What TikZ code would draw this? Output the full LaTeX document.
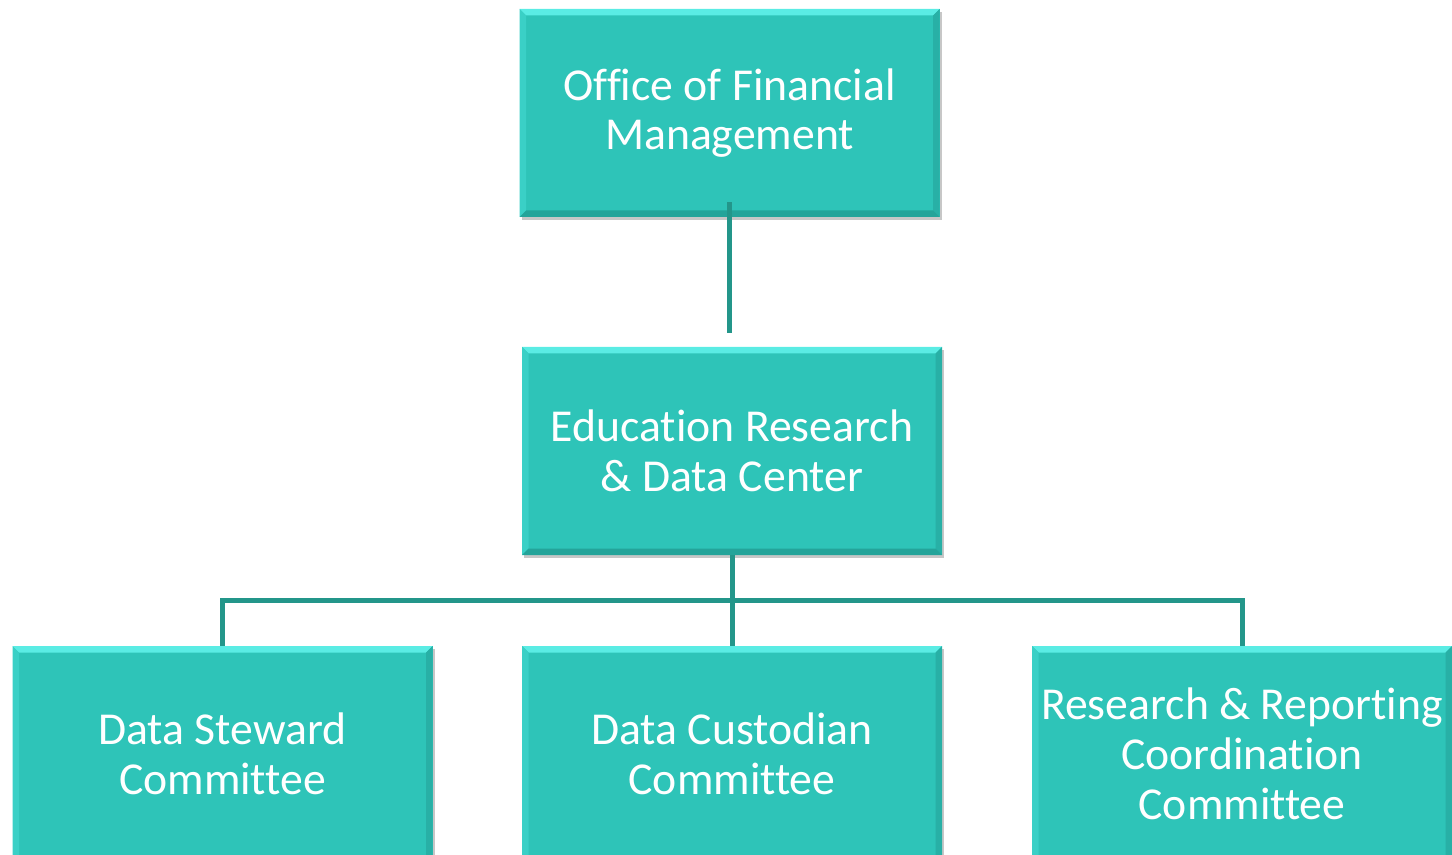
\documentclass[tikz,border=0pt]{standalone}
\usepackage{fontspec}
\setmainfont{Carlito}[Ligatures=NoCommon]
\usepackage{tikz}
\usepackage{xcolor}
\usetikzlibrary{positioning, calc, shadows}

\definecolor{boxfill}{RGB}{46,196,184}
\definecolor{boxtop}{RGB}{90,236,228}
\definecolor{boxleft}{RGB}{58,208,198}
\definecolor{boxright}{RGB}{40,176,166}
\definecolor{boxbottom}{RGB}{36,164,154}
\definecolor{linkc}{RGB}{35,150,138}

\tikzset{
  unit/.style={fill=boxfill, text=white, align=center,
    minimum width=8.4cm, minimum height=4.16cm, inner sep=0pt,
    font=\fontsize{26}{28.3}\selectfont,
    drop shadow={shadow xshift=0.04cm, shadow yshift=-0.06cm, opacity=0.22, fill=black},
    path picture={
      \fill[boxtop] (path picture bounding box.north west) -- (path picture bounding box.north east)
        -- ++(-0.13,-0.13) -- ($(path picture bounding box.north west)+(0.13,-0.13)$) -- cycle;
      \fill[boxleft] (path picture bounding box.north west) -- ++(0.13,-0.13)
        -- ($(path picture bounding box.south west)+(0.13,0.13)$) -- (path picture bounding box.south west) -- cycle;
      \fill[boxright] (path picture bounding box.north east) -- ++(-0.13,-0.13)
        -- ($(path picture bounding box.south east)+(-0.13,0.13)$) -- (path picture bounding box.south east) -- cycle;
      \fill[boxbottom] (path picture bounding box.south west) -- (path picture bounding box.south east)
        -- ++(-0.13,0.13) -- ($(path picture bounding box.south west)+(0.13,0.13)$) -- cycle;
    }},
  committee/.style={unit, minimum height=4.32cm},
  link/.style={draw=linkc, line width=2.85pt}
}

\begin{document}
\begin{tikzpicture}
        \useasboundingbox (0,0) rectangle (29.04,-17.1);

        % Top level
        \node[unit] (ofm) at (14.59,-2.26) {Office of Financial\\Management};
        \node[unit] (erdc) at (14.64,-9.02) {Education Research\\\& Data Center};
        \coordinate (gap) at (14.58,-6.66);

        % Committees
        \node[committee] (dsc) at (4.45,-15.08) {Data Steward\\Committee};
        \node[committee] (dcc) at (14.64,-15.08) {Data Custodian\\Committee};
        \node[committee] (rrc) at (24.84,-15.08) {Research \& Reporting\\Coordination\\Committee};

        % Connectors
        \draw[link] ($(ofm.south)+(-0.01,0.3)$) -- (gap);
        \draw[link] (erdc.south) -- (dcc.north);
        \draw[link] (dsc.north) |- ($(erdc.south)!0.5!(dcc.north)$) -| (rrc.north);

    \end{tikzpicture}
\end{document}
